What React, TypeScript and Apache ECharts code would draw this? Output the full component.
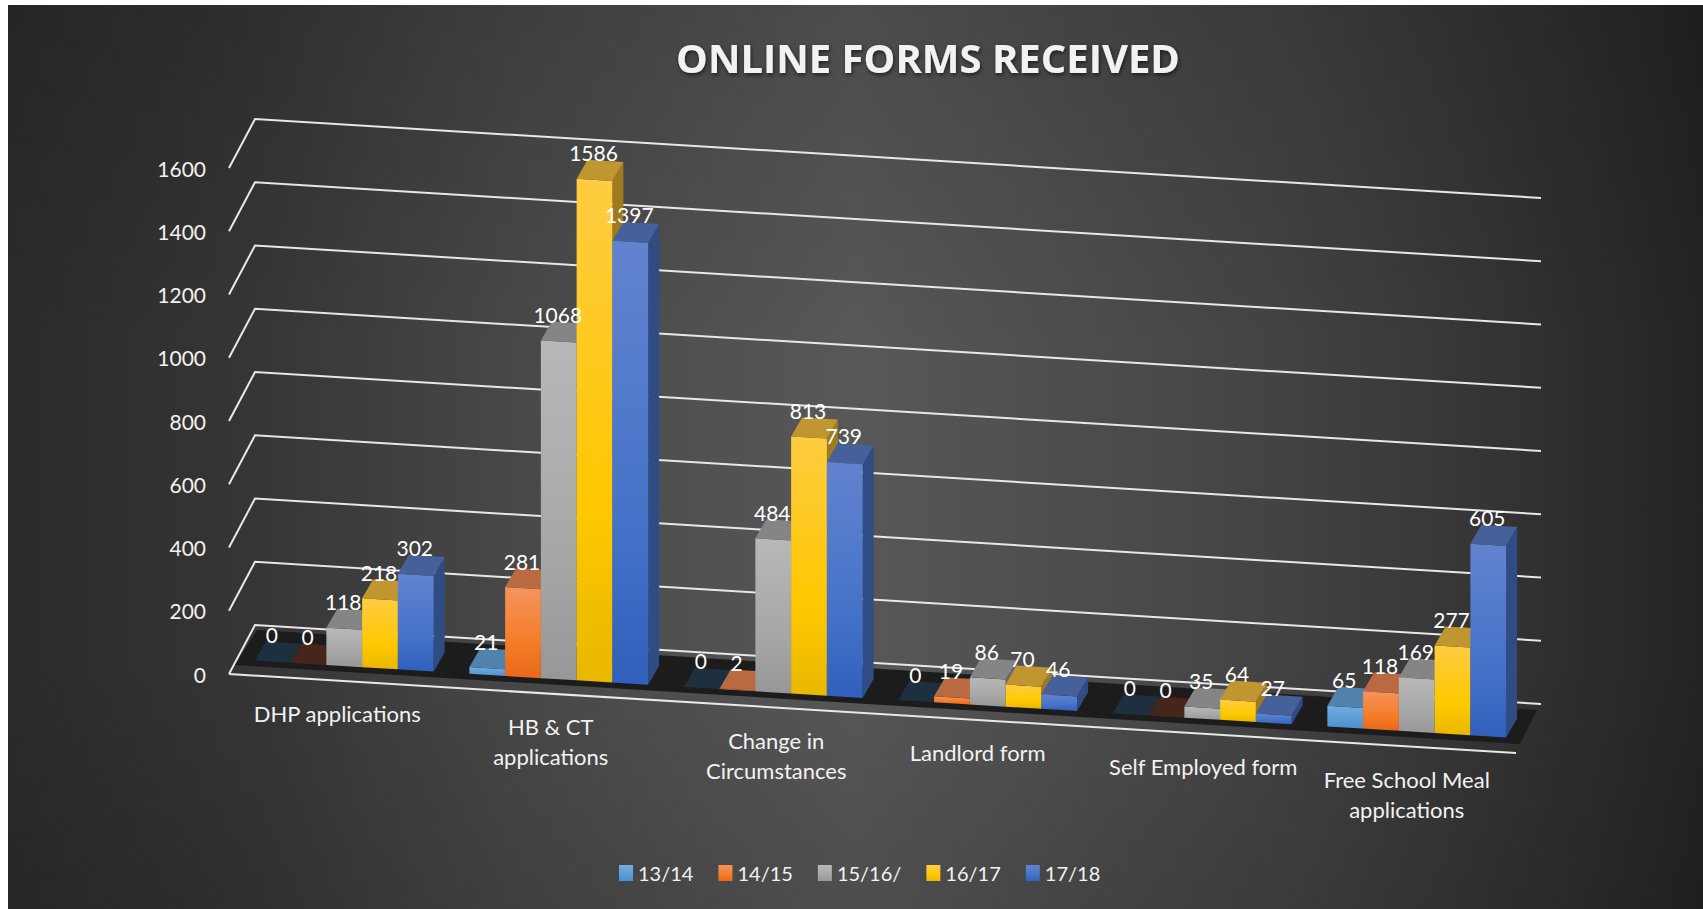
import React, { useEffect, useRef } from "react";
import * as echarts from "echarts";

const categories = [
  "DHP applications",
  "HB & CT\napplications",
  "Change in\nCircumstances",
  "Landlord form",
  "Self Employed form",
  "Free School Meal\napplications",
];
const yearNames = ["13/14", "14/15", "15/16/", "16/17", "17/18"];
const values1314 = [0, 21, 0, 0, 0, 65];
const values1415 = [0, 281, 2, 19, 0, 118];
const values1516 = [118, 1068, 484, 86, 35, 169];
const values1617 = [218, 1586, 813, 70, 64, 277];
const values1718 = [302, 1397, 739, 46, 27, 605];
const yTicks = [0, 200, 400, 600, 800, 1000, 1200, 1400, 1600];

const allValues = [values1314, values1415, values1516, values1617, values1718];

const FONT = "Lato, Carlito, Calibri, sans-serif";

// Oblique projection of the plot: the floor falls to the right and has depth.
const SLOPE = 79 / 1287;
const FLOOR_DX = 8;
const FLOOR_DY = -15;
const DEPTH_DX = 11;
const DEPTH_DY = -19;
const WALL_DX = 26;
const WALL_DY = -49;
const labelNudge = [1, 0, 11, -2, 9, -2];

const palette = [
  { front: ["#73ACE1", "#5B9BD5", "#4A90D0"], top: "#5182AC", side: "#3D6F9D", zero: "#1E3040" },
  { front: ["#F6935C", "#F47B26", "#E8681B"], top: "#B96A40", side: "#A04E15", zero: "#46261A" },
  { front: ["#B8B8B8", "#A6A6A6", "#979797"], top: "#858585", side: "#696969", zero: "#3A3A3A" },
  { front: ["#FFCC42", "#FFC800", "#E8B800"], top: "#BF9630", side: "#9E7B1E", zero: "#4A3C10" },
  { front: ["#6283CF", "#4472C8", "#3060BD"], top: "#46609A", side: "#2F4C85", zero: "#1C2A48" },
];

function frontFill(s: number) {
  const c = palette[s].front;
  return {
    type: "linear",
    x: 0,
    y: 0,
    x2: 0,
    y2: 1,
    colorStops: [
      { offset: 0, color: c[0] },
      { offset: 0.65, color: c[1] },
      { offset: 1, color: c[2] },
    ],
  };
}

function gridRender(params: any, api: any) {
  const cs = params.coordSys;
  const v = api.value(0);
  const y = api.coord([0, v])[1];
  const x0 = cs.x;
  const wallW = cs.width + WALL_DX - 1;
  const children: any[] = [
    {
      type: "polyline",
      shape: {
        points: [
          [x0, y],
          [x0 + WALL_DX, y + WALL_DY],
          [x0 + wallW, y + WALL_DY + wallW * SLOPE - WALL_DX * SLOPE],
        ],
      },
      style: { stroke: "#E8E8E8", lineWidth: 2, fill: "none" },
    },
  ];
  if (v === 0) {
    children.push({
      type: "line",
      shape: { x1: x0, y1: y, x2: x0 + cs.width, y2: y + cs.width * SLOPE },
      style: { stroke: "#E8E8E8", lineWidth: 2 },
    });
    children.push({
      type: "polygon",
      shape: {
        points: [
          [x0 + 6, y - 9],
          [x0 + 28, y - 44],
          [x0 + 1308, y + 36],
          [x0 + 1291, y + 70],
        ],
      },
      style: { fill: "#1C1C1C" },
    });
  }
  return { type: "group", children };
}

function barRender(s: number) {
  return (params: any, api: any) => {
    const cs = params.coordSys;
    const i = api.value(0);
    const v = api.value(1);
    const band = cs.width / categories.length;
    const bw = band / (yearNames.length + 1);
    const cx = api.coord([i, 0])[0];
    const x1 = cx - 2.5 * bw + s * bw + FLOOR_DX;
    const x2 = x1 + bw;
    const shift = (x: number) => SLOPE * (x - cs.x) + FLOOR_DY;
    const yb = api.coord([i, 0])[1];
    const yt = api.coord([i, v])[1];
    const b1 = yb + shift(x1);
    const b2 = yb + shift(x2);
    const t1 = yt + shift(x1);
    const t2 = yt + shift(x2);
    const p = palette[s];
    const children: any[] = [];
    if (v > 0) {
      children.push({
        type: "polygon",
        z2: s,
        shape: {
          points: [
            [x2, t2],
            [x2 + DEPTH_DX, t2 + DEPTH_DY],
            [x2 + DEPTH_DX, b2 + DEPTH_DY],
            [x2, b2],
          ],
        },
        style: { fill: p.side },
      });
      children.push({
        type: "polygon",
        z2: s,
        shape: { points: [[x1, t1], [x2, t2], [x2, b2], [x1, b1]] },
        style: { fill: frontFill(s) },
      });
    }
    children.push({
      type: "polygon",
      z2: s,
      shape: {
        points: [
          [x1, t1],
          [x2, t2],
          [x2 + DEPTH_DX, t2 + DEPTH_DY],
          [x1 + DEPTH_DX, t1 + DEPTH_DY],
        ],
      },
      style: { fill: v > 0 ? p.top : p.zero },
    });
    children.push({
      type: "text",
      z2: 100,
      style: {
        text: String(v),
        x: x1 + bw / 2 - 1,
        y: t1 - 26,
        align: "center",
        verticalAlign: "middle",
        fill: "#FFFFFF",
        font: `21px ${FONT}`,
      },
    });
    return { type: "group", children };
  };
}

function categoryLabelRender(params: any, api: any) {
  const cs = params.coordSys;
  const i = api.value(0);
  const [cx, y0] = api.coord([i, 0]);
  const x = cx + labelNudge[i];
  return {
    type: "text",
    z2: 100,
    style: {
      text: categories[i],
      x,
      y: y0 + SLOPE * (x - cs.x) + 18,
      align: "center",
      verticalAlign: "top",
      lineHeight: 30,
      fill: "#F2F2F2",
      font: `22px ${FONT}`,
    },
  };
}

export default function App() {
  const ref = useRef<HTMLDivElement>(null);

  useEffect(() => {
    const chart = echarts.init(ref.current!, undefined, { renderer: "svg" });
    chart.setOption({
      animation: false,
      title: {
        text: "ONLINE FORMS RECEIVED",
        left: 915,
        top: 27,
        textAlign: "center",
        textStyle: {
          color: "#F2F2F2",
          fontFamily: "'Open Sans', sans-serif",
          fontWeight: "bold",
          fontSize: 40,
          textShadowColor: "rgba(0,0,0,0.6)",
          textShadowBlur: 4,
          textShadowOffsetX: 1,
          textShadowOffsetY: 2,
        },
      },
      legend: {
        left: 611,
        top: 858,
        padding: 0,
        itemWidth: 14,
        itemHeight: 16,
        itemGap: 25,
        selectedMode: false,
        textStyle: { color: "#F2F2F2", fontFamily: FONT, fontSize: 20 },
        data: yearNames.map((name, s) => ({
          name,
          icon: "rect",
          itemStyle: { color: frontFill(s) },
        })),
      },
      grid: { left: 221, top: 163, width: 1287, height: 506 },
      xAxis: {
        type: "category",
        data: categories,
        axisLine: { show: false },
        axisTick: { show: false },
        axisLabel: { show: false },
      },
      yAxis: {
        type: "value",
        min: 0,
        max: 1600,
        interval: 200,
        axisLine: { show: false },
        axisTick: { show: false },
        splitLine: { show: false },
        axisLabel: {
          color: "#F2F2F2",
          fontFamily: FONT,
          fontSize: 21,
          margin: 23,
          formatter: (v: number) => String(v),
        },
      },
      series: [
        {
          type: "custom",
          name: "grid",
          z: 1,
          silent: true,
          clip: false,
          renderItem: gridRender,
          encode: { y: 0 },
          data: yTicks.map((v) => [v]),
        },
        ...yearNames.map((name, s) => ({
          type: "custom",
          name,
          z: 2,
          clip: false,
          renderItem: barRender(s),
          encode: { x: 0, y: 1 },
          itemStyle: { color: palette[s].front[1] },
          data: allValues[s].map((v, i) => [i, v]),
        })),
        {
          type: "custom",
          name: "category labels",
          z: 3,
          silent: true,
          clip: false,
          renderItem: categoryLabelRender,
          encode: { x: 0 },
          data: categories.map((_, i) => [i]),
        },
      ],
    });
    return () => chart.dispose();
  }, []);

  return (
    <div
      ref={ref}
      style={{
        position: "absolute",
        left: 8,
        top: 5,
        width: 1695,
        height: 904,
        background:
          "linear-gradient(to bottom, rgba(0,0,0,0.14) 0%, rgba(0,0,0,0) 38%, rgba(0,0,0,0) 72%, rgba(0,0,0,0.12) 100%), " +
          "linear-gradient(to right, #2b2b2b 0%, #363636 15%, #484848 30%, #585858 50%, #434343 75%, #313131 90%, #232323 100%)",
      }}
    />
  );
}
